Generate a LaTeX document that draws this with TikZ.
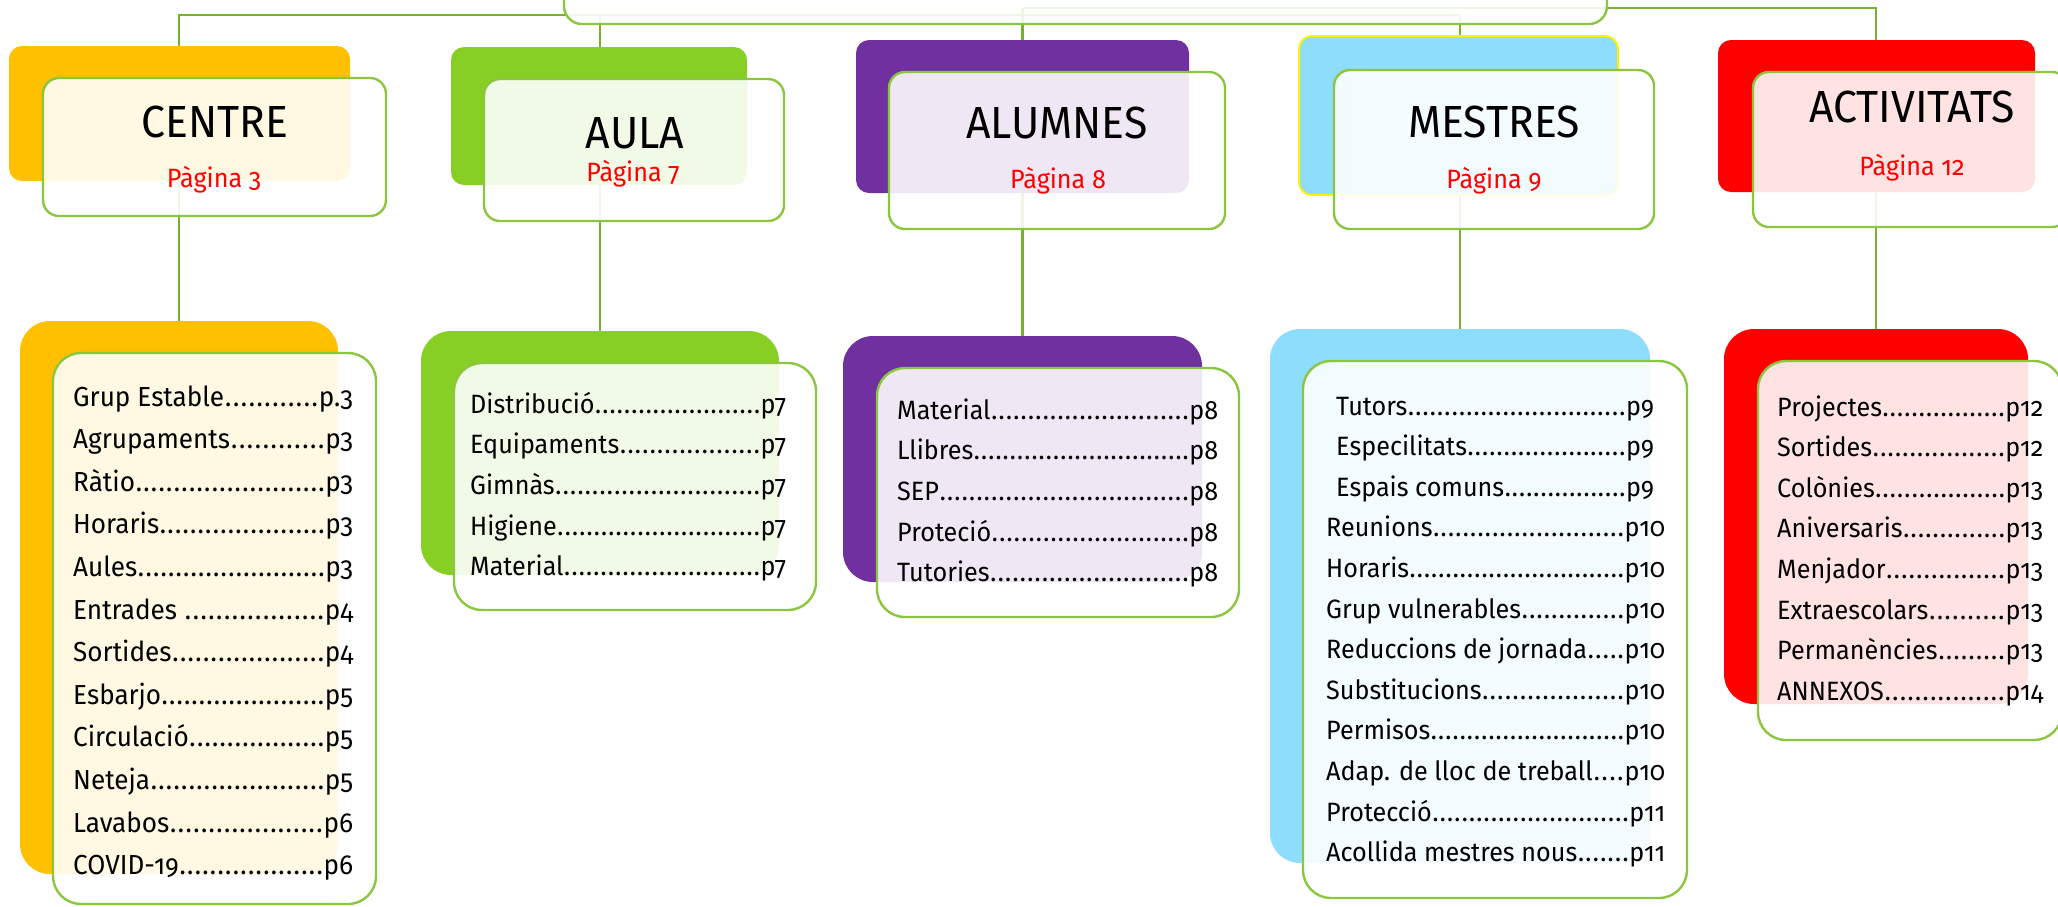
\documentclass[tikz,border=0pt]{standalone}
\usepackage{fontspec}
\setmainfont{Fira Sans}[Numbers=OldStyle, FakeStretch=0.95]
\pgfdeclarelayer{bg}
\pgfsetlayers{bg,main}
\definecolor{corange}{HTML}{FFC000}
\definecolor{cgreen}{HTML}{88CF25}
\definecolor{cpurple}{HTML}{7030A0}
\definecolor{cblue}{HTML}{8FDDFD}
\definecolor{cred}{HTML}{FF0000}
\definecolor{cframe}{HTML}{8CC63F}
\definecolor{conncol}{HTML}{78B22C}
\newcommand\dotline{\xleaders\hbox to 0.27em{\hss.\hss}\hfill}
\tikzset{
  backtop/.style={rectangle, rounded corners=13pt, inner sep=0pt, outer sep=0pt},
  fronttop/.style={rectangle, rounded corners=16pt, inner sep=0pt, outer sep=0pt, draw=cframe, line width=2.4pt, fill=white, fill opacity=0.89},
  backlow/.style={rectangle, rounded corners=30pt, inner sep=0pt, outer sep=0pt},
  frontlow/.style={rectangle, rounded corners=28pt, inner sep=0pt, outer sep=0pt, draw=cframe, line width=2.4pt, fill=white, fill opacity=0.89},
  conn/.style={draw=conncol, line width=2.4pt},
  head/.style={font=\fontsize{45}{54}\selectfont, text=black, inner sep=0pt, anchor=base},
  pg/.style={font=\fontsize{26.5}{30}\selectfont, text=cred, inner sep=0pt, anchor=base},
  entry/.style={font=\fontsize{26.5}{32}\selectfont, text=black, inner sep=0pt, anchor=base west},
}
\begin{document}
\begin{tikzpicture}[x=1pt,y=-1pt]
\useasboundingbox (0,0) rectangle (2058,906);
% root
\node[fronttop, rounded corners=18pt, minimum width=1043pt, minimum height=70pt] (root) at (1085.5,-11) {};
% top boxes
\node[backtop, fill=corange, minimum width=341pt, minimum height=135pt] (tcb) at (179.5,113.5) {};
\node[fronttop, minimum width=343pt, minimum height=138pt] (tcf) at (214.5,147) {};
\node[backtop, fill=cgreen, minimum width=296pt, minimum height=138pt] (tab) at (599,116) {};
\node[fronttop, minimum width=300pt, minimum height=142pt] (taf) at (634,150) {};
\node[backtop, fill=cpurple, minimum width=333pt, minimum height=153pt] (tnb) at (1022.5,116.5) {};
\node[fronttop, minimum width=336pt, minimum height=157pt] (tnf) at (1057,150.5) {};
\node[backtop, fill=cblue, draw=yellow, line width=2pt, minimum width=319pt, minimum height=159pt] (tmb) at (1458.5,115.5) {};
\node[fronttop, minimum width=320pt, minimum height=159pt] (tmf) at (1494,149.5) {};
\node[backtop, fill=cred, minimum width=317pt, minimum height=152pt] (ttb) at (1876.5,116) {};
\node[fronttop, minimum width=315pt, minimum height=155pt] (ttf) at (1910.5,149.5) {};
% headings
\node[head] (hC) at (215,137) {CENTRE};
\node[pg] (pC) at (214,187) {Pàgina 3};
\node[head] (hA) at (635,148) {AULA};
\node[pg] (pA) at (633,181) {Pàgina 7};
\node[head] (hN) at (1057,138) {ALUMNES};
\node[pg] (pN) at (1058,188) {Pàgina 8};
\node[head] (hM) at (1494,137) {MESTRES};
\node[pg] (pM) at (1494,188) {Pàgina 9};
\node[head] (hT) at (1912,122) {ACTIVITATS};
\node[pg] (pT) at (1912,175) {Pàgina 12};
% lower boxes
\node[backlow, fill=corange, minimum width=318pt, minimum height=553pt] (lcb) at (179,597.5) {};
\node[frontlow, minimum width=323pt, minimum height=551pt] (lcf) at (214.5,628.5) {};
\node[backlow, fill=cgreen, minimum width=358pt, minimum height=244pt] (lab) at (600,453) {};
\node[frontlow, minimum width=362pt, minimum height=247pt] (laf) at (635,486.5) {};
\node[backlow, fill=cpurple, minimum width=359pt, minimum height=246pt] (lnb) at (1022.5,459) {};
\node[frontlow, minimum width=362pt, minimum height=249pt] (lnf) at (1058,492.5) {};
\node[backlow, fill=cblue, minimum width=380pt, minimum height=534pt] (lmb) at (1460,596) {};
\node[frontlow, minimum width=384pt, minimum height=537pt] (lmf) at (1495,629.5) {};
\node[backlow, fill=cred, minimum width=304pt, minimum height=375pt] (ltb) at (1876,516.5) {};
\node[frontlow, minimum width=304pt, minimum height=379pt] (ltf) at (1910,550.5) {};
% entries
\foreach \t/\p [count=\i from 0] in {Grup Estable/p.3,Agrupaments/p3,Ràtio/p3,Horaris/p3,Aules/p3,Entrades~/p4,Sortides/p4,Esbarjo/p5,Circulació/p5,Neteja/p5,Lavabos/p6,COVID-19/p6}
  \node[entry, font=\fontsize{27.5}{32}\selectfont] (ce\i) at (73,{406+42.6*\i}) {\hbox to 280pt{\t\dotline\p}};
\foreach \t/\p [count=\i from 0] in {Distribució/p7,Equipaments/p7,Gimnàs/p7,Higiene/p7,Material/p7}
  \node[entry] (ca\i) at (470,{413+40.7*\i}) {\hbox to 316pt{\t\dotline\p}};
\foreach \t/\p [count=\i from 0] in {Material/p8,Llibres/p8,SEP/p8,Proteció/p8,Tutories/p8}
  \node[entry] (cn\i) at (897,{419+40.7*\i}) {\hbox to 321pt{\t\dotline\p}};
\foreach \t/\p [count=\i from 0] in {Tutors/p9,Especilitats/p9,Espais comuns/p9}
  \node[entry] (cm\i) at (1336,{415+40.6*\i}) {\hbox to 318pt{\t\dotline\p}};
\foreach \t/\p [count=\i from 3] in {Reunions/p10,Horaris/p10,Grup vulnerables/p10,Reduccions de jornada/p10,Substitucions/p10,Permisos/p10,Adap. de lloc de treball/p10,Protecció/p11,Acollida mestres nous/p11}
  \node[entry] (cm\i) at (1326,{415+40.6*\i}) {\hbox to 339pt{\t\dotline\p}};
\foreach \t/\p [count=\i from 0] in {Projectes/p12,Sortides/p12,Colònies/p13,Aniversaris/p13,Menjador/p13,Extraescolars/p13,Permanències/p13,ANNEXOS/p14}
  \node[entry] (ct\i) at (1777,{416+40.6*\i}) {\hbox to 266pt{\t\dotline\p}};
% connectors
\coordinate (hubA) at (1460,15);
\coordinate (hubB) at (1022.5,8);
\begin{pgfonlayer}{bg}
\draw[conn] (hubA) -| (lcb.north);
\draw[conn] (lab.north |- hubA) -- (lab.north);
\draw[conn] (lmb.north |- hubA) -- (lmb.north);
\draw[conn] (hubB) -- (lnb.north);
\draw[conn] (hubB) -| (ltb.north);
\end{pgfonlayer}
\end{tikzpicture}
\end{document}
